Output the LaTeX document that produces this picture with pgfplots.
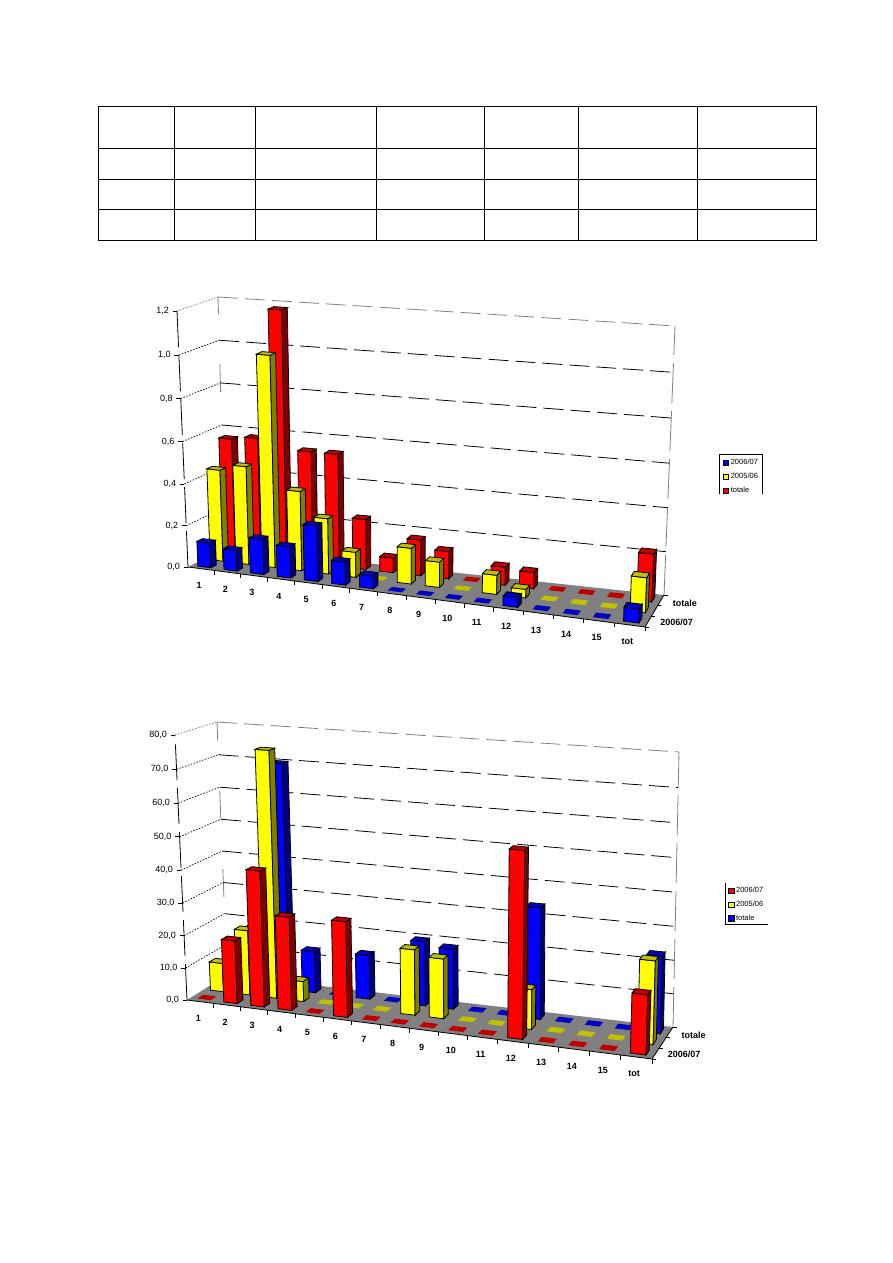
\documentclass[border=0pt]{standalone}
\usepackage{fontspec}
\setmainfont{Liberation Sans}
\usepackage{pgfplots}
\usepackage{pgfplotstable}
\pgfplotsset{compat=1.18}

\definecolor{fl}{HTML}{808080}
\definecolor{rf}{HTML}{FF0000}\definecolor{rs}{HTML}{800000}\definecolor{rt}{HTML}{C00000}
\definecolor{yf}{HTML}{FFFF00}\definecolor{ys}{HTML}{808000}\definecolor{yt}{HTML}{C0C000}
\definecolor{bf}{HTML}{0000FF}\definecolor{bs}{HTML}{000080}\definecolor{bt}{HTML}{0000C0}

% first chart: 2006/07, 2005/06, totale
\pgfplotstableread{
cat a b c
1 0.12 0.44 0.56
2 0.10 0.47 0.575
3 0.17 1.00 1.18
4 0.15 0.38 0.535
5 0.265 0.265 0.535
6 0.11 0.12 0.24
7 0.06 0 0.07
8 0 0.17 0.17
9 0 0.12 0.13
10 0 0 0
11 0 0.09 0.085
12 0.045 0.04 0.075
13 0 0 0
14 0 0 0
15 0 0 0
tot 0.065 0.16 0.22
}\dataA

% second chart
\pgfplotstableread{
cat a b c
1 0 9 5
2 19.4 20.2 19
3 41.5 75.5 70
4 28.5 6.3 13
5 0 0 0
6 29 0 13.7
7 0 0 0
8 0 20 19.8
9 0 18.2 18.5
10 0 0 0
11 0 0 0
12 55 12 33.7
13 0 0 0
14 0 0 0
15 0 0 0
tot 17.5 24.5 23
}\dataB

% corners of the plot box in page pixels, lower case floor, upper case top
\newcommand\setcorners[8]{%
  \def\FLx{#1}\def\FLy{#2}\def\FRx{#3}\def\FRy{#4}%
  \def\BLx{#5}\def\BLy{#6}\def\BRx{#7}\def\BRy{#8}}
\newcommand\settops[8]{%
  \def\FLX{#1}\def\FLY{#2}\def\FRX{#3}\def\FRY{#4}%
  \def\BLX{#5}\def\BLY{#6}\def\BRX{#7}\def\BRY{#8}}

% u along categories, w in depth, h height, all 0..1
\newcommand\proj[4]{%
  \pgfmathsetmacro\wA{(1-#1)*(1-#2)}%
  \pgfmathsetmacro\wB{#1*(1-#2)}%
  \pgfmathsetmacro\wC{(1-#1)*#2}%
  \pgfmathsetmacro\wD{#1*#2}%
  \pgfmathsetmacro\hw{#3*(0.96+0.04*#3)}%
  \pgfmathsetmacro\px{(1-\hw)*(\wA*\FLx+\wB*\FRx+\wC*\BLx+\wD*\BRx)+\hw*(\wA*\FLX+\wB*\FRX+\wC*\BLX+\wD*\BRX)}%
  \pgfmathsetmacro\py{(1-\hw)*(\wA*\FLy+\wB*\FRy+\wC*\BLy+\wD*\BRy)+\hw*(\wA*\FLY+\wB*\FRY+\wC*\BLY+\wD*\BRY)}%
  \edef#4{(\px,\py)}}
\newcommand\warp[2]{\pgfmathsetmacro#2{(#1)*(0.91+0.09*(#1))}}

\newcommand\poly[2]{\edef\tmp{\noexpand\addplot[forget plot,#1] coordinates {#2};}\tmp}
\newcommand\face[5]{\edef\tmp{\noexpand\addplot[forget plot,#1] coordinates {#2 #3 #4 #5} --cycle;}\tmp}

% one bar: category index, row, value, colour prefix
\newcommand\tdbar[4]{%
  \warp{(#1+0.25)/16}\ua \warp{(#1+0.75)/16}\ub
  \pgfmathsetmacro\wf{(#2+0.275)/3}\pgfmathsetmacro\wg{(#2+0.725)/3}%
  \pgfmathsetmacro\hh{#3/\vmax}%
  \proj{\ua}{\wf}{\hh}\pD \proj{\ub}{\wf}{\hh}\pC \proj{\ub}{\wg}{\hh}\pF \proj{\ua}{\wg}{\hh}\pG
  \pgfmathparse{#3>0?1:0}\pgfmathtruncatemacro\isup{\pgfmathresult}\ifnum\isup>0
    \proj{\ua}{\wf}{0}\pA \proj{\ub}{\wf}{0}\pB \proj{\ub}{\wg}{0}\pE
    \face{fill=#4f,draw=black,line width=0.8pt}{\pA}{\pB}{\pC}{\pD}%
    \face{fill=#4s,draw=black,line width=0.8pt}{\pB}{\pE}{\pF}{\pC}%
    \face{fill=#4t,draw=black,line width=0.8pt}{\pD}{\pC}{\pF}{\pG}%
  \else
    \face{fill=#4t,draw=none}{\pD}{\pC}{\pF}{\pG}%
  \fi}

\newcommand\drawrow[4]{%
  \pgfplotsforeachungrouped \i in {0,...,15}{%
    \pgfplotstablegetelem{\i}{#2}\of#1\let\val\pgfplotsretval
    \tdbar{\i}{#3}{\val}{#4}}}

% text at a projected place
\newcommand\lab[8][]{%
  \proj{#2}{#3}{#4}\pT
  \edef\tmp{\noexpand\node[anchor=#7,inner sep=0pt,font=\noexpand\fontsize{9}{9}\noexpand\selectfont#1] at ([shift={(#5pt,#6pt)}]axis cs:\px,\py) {#8};}\tmp}

% floor, walls, ticks and labels
\newcommand\frameplot[1]{%
  \proj{0}{0}{0}\pa \proj{1}{0}{0}\pb \proj{1}{1}{0}\pc \proj{0}{1}{0}\pd
  \face{fill=fl,draw=none}{\pa}{\pb}{\pc}{\pd}%
  \poly{black,line width=0.8pt}{\pa \pb \pc}%
  \proj{0}{0}{1}\pe \proj{0}{1}{1}\pf \proj{1}{1}{1}\pg
  \poly{black,line width=0.8pt,dash pattern=on 36pt off 8pt}{\pa \pe}%
  \poly{fl,line width=0.8pt,dash pattern=on 28pt off 50pt}{\pd \pf}%
  \poly{fl,line width=0.8pt,dash pattern=on 40pt off 8pt}{\pc \pg}%
  \pgfplotsforeachungrouped \k in {1,...,\nlev}{%
    \pgfmathsetmacro\lv{\k/\nlev}%
    \proj{0}{0}{\lv}\pp \proj{0}{1}{\lv}\pq \proj{1}{1}{\lv}\pR
    \ifnum\k=\nlev
      \poly{fl,line width=0.8pt,dash pattern=on 1.5pt off 1.5pt}{\pp \pq}%
      \poly{fl,line width=0.8pt,dash pattern=on 20pt off 7pt}{\pq \pR}%
    \else
      \poly{black,line width=0.7pt,dash pattern=on 1.5pt off 1.5pt}{\pp \pq}%
      \poly{black,line width=0.8pt,dash pattern=on 20pt off 7pt}{\pq \pR}%
    \fi}%
  \pgfplotsforeachungrouped \k in {0,...,\nlev}{%
    \pgfmathsetmacro\lv{\k/\nlev}%
    \proj{0}{0}{\lv}\pp
    \edef\tmp{\noexpand\draw[black,line width=0.8pt] (axis cs:\px,\py) -- ++(-4.5pt,0pt);}\tmp
    \pgfmathsetmacro\ltv{\k*\vstep}%
    \lab{0}{0}{\lv}{-8}{0}{east}{\noexpand\pgfmathprintnumber[fixed,fixed zerofill,precision=1,use comma,assume math mode=true]{\ltv}}}%
  \pgfplotsforeachungrouped \k in {1,...,16}{%
    \pgfmathsetmacro\uu{\k/16}\warp{\uu}\ut
    \proj{\ut}{0}{0}\pp
    \edef\tmp{\noexpand\draw[black,line width=0.8pt] (axis cs:\px,\py) -- ++(0pt,-4.5pt);}\tmp}%
  \pgfplotsforeachungrouped \k in {0,...,15}{%
    \pgfplotstablegetelem{\k}{cat}\of#1\let\cname\pgfplotsretval
    \pgfmathsetmacro\uu{(\k+0.5)/16}\warp{\uu}\ut
    \lab[\noexpand\bfseries]{\ut}{0}{0}{-2}{-17}{center}{\cname}}%
  \pgfplotsforeachungrouped \k in {0,1,2,3}{%
    \pgfmathsetmacro\wv{\k/3}%
    \proj{1}{\wv}{0}\pp
    \edef\tmp{\noexpand\draw[black,line width=0.8pt] (axis cs:\px,\py) -- ++(3.5pt,0pt);}\tmp}%
  \lab[\noexpand\bfseries]{1}{0.17}{0}{12}{-1}{west}{2006/07}%
  \lab[\noexpand\bfseries]{1}{0.83}{0}{12}{-3}{west}{totale}}

\pgfplotsset{
  canvas/.style={at={(0pt,0pt)},anchor=south west,scale only axis,width=892pt,height=1263pt,
    xmin=0,xmax=892,ymin=0,ymax=1263,y dir=reverse,hide axis,clip=false},
  swatch/.style={legend image code/.code={\draw[##1] (0pt,-2.7pt) rectangle (5.5pt,2.7pt);}},
}

\begin{document}
\begin{tikzpicture}[x=1pt,y=1pt]
\path[use as bounding box] (0,0) rectangle (892,1263);

% the empty table over the charts
\begin{axis}[at={(98pt,1022pt)},anchor=south west,scale only axis,width=718pt,height=134pt,
  xmin=98,xmax=816,ymin=106,ymax=240,y dir=reverse,
  xtick={174,255,376,484,578,697},ytick={148,179,209},
  xticklabels={},yticklabels={},major tick length=0pt,
  grid=major,grid style={black,line width=1pt},axis line style={line width=1pt}]
\addplot[draw=none] coordinates {(98,106)};
\end{axis}

% chart 1
\begin{axis}[canvas,swatch,legend cell align=left,
  legend style={at={(0.8091,0.639)},anchor=north west,draw=none,fill=none,inner sep=1pt,
    font=\fontsize{7.5}{7.5}\selectfont,row sep=3pt}]
\setcorners{188}{567}{645}{627}{225}{548}{664}{595}
\settops{177}{311}{654}{357}{218}{297}{675}{326}
\def\vmax{1.2}\def\nlev{6}\def\vstep{0.2}
\frameplot{\dataA}
\drawrow{\dataA}{c}{2}{r}
\drawrow{\dataA}{b}{1}{y}
\drawrow{\dataA}{a}{0}{b}
\addlegendimage{fill=bf,draw=black}\addlegendentry{2006/07}
\addlegendimage{fill=yf,draw=black}\addlegendentry{2005/06}
\addlegendimage{fill=rf,draw=black}\addlegendentry{totale}
\addplot[forget plot,black,line width=0.8pt] coordinates {(719,494) (719,454) (762,454) (762,494)};
\end{axis}

% chart 2
\begin{axis}[canvas,swatch,legend cell align=left,
  legend style={at={(0.815,0.3002)},anchor=north west,draw=none,fill=none,inner sep=1pt,
    font=\fontsize{7.5}{7.5}\selectfont,row sep=3pt}]
\setcorners{187}{1000}{652}{1059}{227}{975}{673}{1027}
\settops{175}{735}{661}{774}{217}{722}{679}{752}
\def\vmax{80}\def\nlev{8}\def\vstep{10}
\frameplot{\dataB}
\drawrow{\dataB}{c}{2}{b}
\drawrow{\dataB}{b}{1}{y}
\drawrow{\dataB}{a}{0}{r}
\addlegendimage{fill=rf,draw=black}\addlegendentry{2006/07}
\addlegendimage{fill=yf,draw=black}\addlegendentry{2005/06}
\addlegendimage{fill=bf,draw=black}\addlegendentry{totale}
\addplot[forget plot,black,line width=0.8pt] coordinates {(725,883) (725,924) (768,924)};
\end{axis}
\end{tikzpicture}
\end{document}
